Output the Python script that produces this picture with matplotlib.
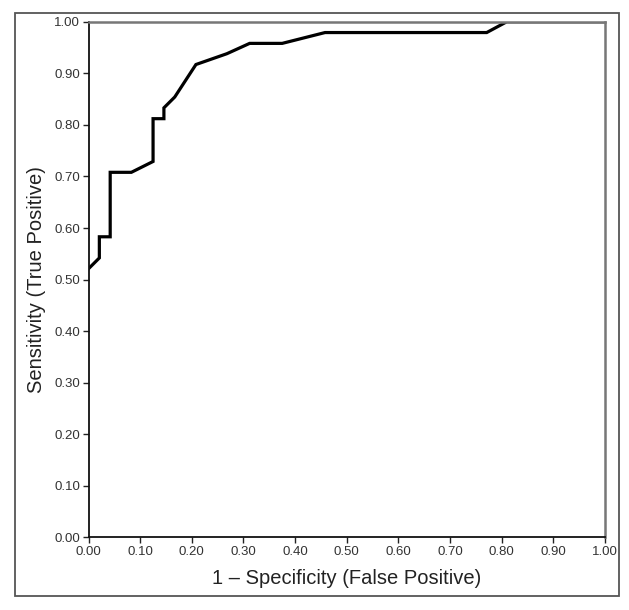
import matplotlib.pyplot as plt
from matplotlib.patches import Rectangle
import numpy as np

# ROC curve points
fpr = [0.000, 0.000, 0.021, 0.021, 0.042, 0.042, 0.083, 0.125, 0.125, 0.146,
       0.146, 0.167, 0.208, 0.268, 0.312, 0.375, 0.458, 0.771, 0.810, 1.000]
tpr = [0.521, 0.521, 0.542, 0.583, 0.583, 0.708, 0.708, 0.729, 0.812, 0.812,
       0.833, 0.854, 0.917, 0.938, 0.958, 0.958, 0.979, 0.979, 1.000, 1.000]

ticks = np.arange(0, 1.01, 0.1)
tick_labels = ["%.2f" % t for t in ticks]

plt.rcParams["font.family"] = ["Liberation Sans", "DejaVu Sans"]

fig = plt.figure(figsize=(6.29, 6.10), dpi=100)
ax = fig.add_axes([0.1407, 0.1189, 0.8211, 0.8455])

# curve sits under the spines, so its top run shows the grey frame line
ax.plot(fpr, tpr, color="black", lw=2.3, solid_joinstyle="miter", zorder=2)

ax.set_xlim(0, 1)
ax.set_ylim(0, 1)
ax.set_xticks(ticks)
ax.set_xticklabels(tick_labels)
ax.set_yticks(ticks)
ax.set_yticklabels(tick_labels)
ax.tick_params(direction="out", length=4, width=1, pad=2, labelsize=9.5,
               labelcolor="#333333", color="#222222")

for side in ["left", "bottom"]:
    ax.spines[side].set_color("#111111")
    ax.spines[side].set_linewidth(1.3)
for side in ["top", "right"]:
    ax.spines[side].set_color("#777777")
    ax.spines[side].set_linewidth(1.8)
for sp in ax.spines.values():
    sp.set_zorder(5)

ax.set_xlabel("1 \u2013 Specificity (False Positive)", fontsize=14.5, color="#222222", labelpad=8)
ax.set_ylabel("Sensitivity (True Positive)", fontsize=14.5, color="#222222", labelpad=6)

# outer frame around the whole chart
fig.patches.append(Rectangle((0.0238, 0.0230), 0.961, 0.9552, transform=fig.transFigure,
                             fill=False, edgecolor="#555555", lw=1.3))

fig.savefig("out.png", dpi=100)
